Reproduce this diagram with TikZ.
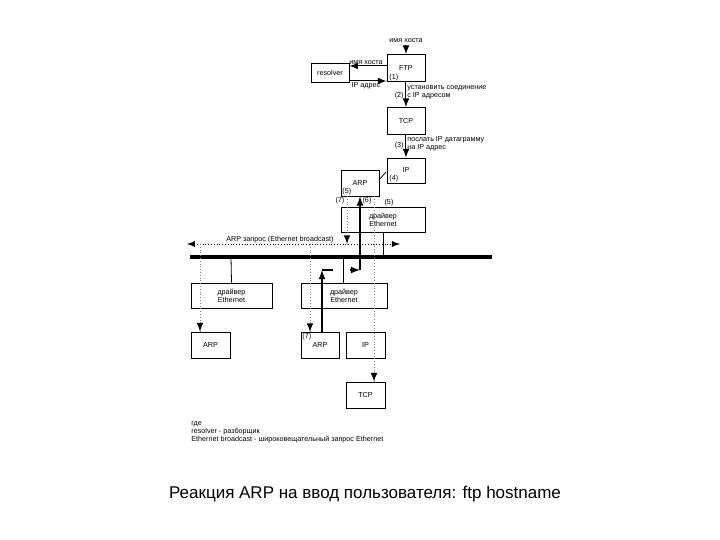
\documentclass[tikz,border=0pt]{standalone}
\usepackage{fontspec}
\setmainfont{Liberation Sans}
\begin{document}
\begin{tikzpicture}[x=0.5pt,y=-0.5pt,
 box/.style={draw,line width=0.4pt,inner sep=0pt,font=\fontsize{3.6}{4}\selectfont,align=center},
 lbl/.style={font=\fontsize{3.6}{4}\selectfont,inner sep=0.5pt,align=left},
 arr/.style={-latex,line width=0.5pt},
 dot/.style={gray,densely dotted,line width=0.4pt}]
\useasboundingbox (0,0) rectangle (720,540);
\node[box,minimum width=19pt,minimum height=13.5pt] (ftp) at (406,68) {FTP};
\node[box,minimum width=19pt,minimum height=9.5pt] (res) at (330,72.5) {resolver};
\node[box,minimum width=19pt,minimum height=13.5pt] (tcp) at (406,121) {TCP};
\node[box,minimum width=19pt,minimum height=12.5pt] (ip) at (406,170.5) {IP};
\node[box,minimum width=19pt,minimum height=13pt] (arp) at (360,183) {ARP};
\node[box,minimum width=42pt,minimum height=12.5pt] (drv) at (383,219.5) {драйвер\\Ethernet};
\node[box,minimum width=40.5pt,minimum height=12.5pt] (dl) at (231.5,295.5) {драйвер\\Ethernet};
\node[box,minimum width=43pt,minimum height=12.5pt] (dm) at (344,295.5) {драйвер\\Ethernet};
\node[box,minimum width=19.5pt,minimum height=13pt] (al) at (210.5,345) {ARP};
\node[box,minimum width=19pt,minimum height=13pt] (am) at (320,345) {ARP};
\node[box,minimum width=19.5pt,minimum height=13pt] (ipb) at (365.5,345) {IP};
\node[box,minimum width=19.5pt,minimum height=13pt] (tcpb) at (365.5,395) {TCP};
% bus
\coordinate (b1) at (190,257); \coordinate (b2) at (492,257);
\draw[line width=2pt] (b1) -- (b2);
\draw (drv.south) ++(0,0) coordinate (dd);
\draw (383,232) -- (383,257);
\draw (231,257) -- (dl.north);
\draw (343,257) -- (343,283);
% top arrows
\coordinate (hn) at (406,45);
\node[lbl] at (406,41) {имя хоста};
\draw[arr] (hn) -- (ftp.north);
\draw[arr] (ftp.west |- 0,66) -- (res.east |- 0,66);
\draw[arr] (res.east |- 0,81) -- (ftp.west |- 0,81);
\node[lbl,anchor=south] at (366,66) {имя хоста};
\node[lbl,anchor=north] at (366,81) {IP адрес};
\node[lbl,anchor=south west] at (388,82) {(1)};
\draw[arr] (ftp.south) -- (tcp.north);
\node[lbl,anchor=west] at (406,92) {установить соединение\\с IP адресом};
\node[lbl,anchor=east] at (405,96) {(2)};
\draw[arr] (tcp.south) -- (ip.north);
\node[lbl,anchor=west] at (406,144) {послать IP датаграмму\\на IP адрес};
\node[lbl,anchor=east] at (405,146) {(3)};
\node[lbl,anchor=south west] at (388,183) {(4)};
\draw (379,180) -- (386,172);
\node[lbl,anchor=south west] at (341,196) {(5)};
\node[lbl] at (340,201) {(7)};
\node[lbl] at (367,201) {(6)};
\node[lbl] at (389,203) {(5)};
% broadcast
\draw[dot,latex-latex,black] (187,244) -- (400,244);
\draw[dot] (200,244) -- (200,332);
\draw[arr,black] (200,325) -- (al.north -| 200,0);
\draw[dot] (310,244) -- (310,332);
\draw[arr] (310,325) -- (310,332);
\draw[dot] (347,196) -- (347,244);
\draw[arr] (347,236) -- (347,244);
\draw[dot] (374,196) -- (374,382);
\draw[arr] (374,375) -- (tcpb.north -| 374,0);
\node[lbl,fill=white] at (280,240) {ARP запрос (Ethernet broadcast)};
% reply path
\draw[line width=0.6pt,-latex] (322,332) -- (322,270);
\draw[line width=0.6pt] (322,270) -- (333,270);
\draw[line width=0.6pt,-latex] (350,270) -- (360,270);
\draw[line width=0.6pt,-latex] (360,270) -- (arp.south -| 360,0);
\node[lbl,anchor=north west] at (301,332) {(7)};
% legend
\node[lbl,anchor=north west] at (190,420) {где\\resolver - разборщик\\Ethernet broadcast - широковещательный запрос Ethernet};
\node[font=\fontsize{8.5}{10}\selectfont] at (365,494) {Реакция ARP на ввод пользователя: ftp hostname};
\end{tikzpicture}
\end{document}
